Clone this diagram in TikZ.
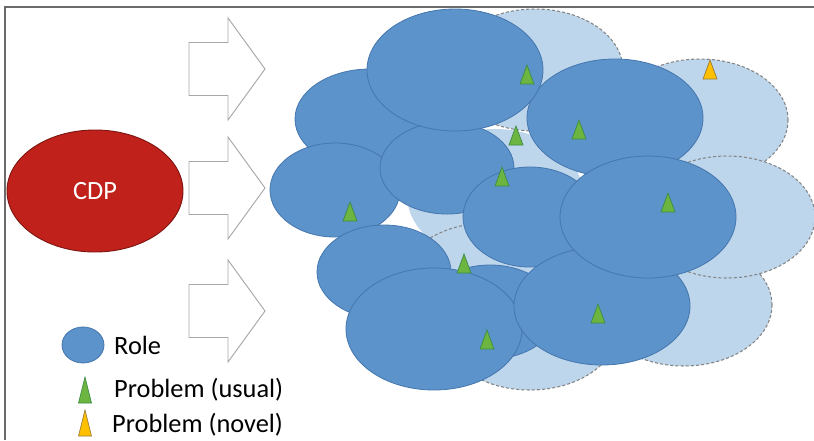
\documentclass[tikz,border=0pt]{standalone}
\usepackage{fontspec}
\setmainfont{Carlito}
\usetikzlibrary{shapes.geometric}

\definecolor{rolefill}{HTML}{5B93CA}
\definecolor{roleline}{HTML}{4677AE}
\definecolor{ghostfill}{HTML}{BDD6EC}
\definecolor{ghostline}{HTML}{858585}
\definecolor{cdpfill}{HTML}{C0211A}
\definecolor{cdpline}{HTML}{7E1611}
\definecolor{usualfill}{HTML}{6CB540}
\definecolor{usualline}{HTML}{3D8C45}
\definecolor{novelfill}{HTML}{FFC000}
\definecolor{novelline}{HTML}{9A7A3A}
\definecolor{arrowline}{HTML}{A8A8A8}

\tikzset{
  role/.style={ellipse, draw=roleline, fill=rolefill, line width=0.7pt,
    inner sep=0pt, minimum width=5.28cm, minimum height=3.66cm},
  small role/.style={role, minimum width=4.02cm, minimum height=2.82cm},
  ghost/.style={role, draw=ghostline, fill=ghostfill, line width=0.9pt,
    dash pattern=on 2.6pt off 1.8pt},
  ghost fill/.style={ghost, draw=none},
  push/.pic={\path[draw=arrowline, fill=white, line width=0.8pt]
    (-38,-26.5) -- (1,-26.5) -- (1,-51) -- (38,0) -- (1,51) -- (1,26.5)
    -- (-38,26.5) -- cycle;},
  label/.style={font=\fontsize{22.5}{27}\selectfont, inner sep=0pt},
  prob/.pic={\path[pic actions] (-7,0) -- (0,-19) -- (7,0) -- cycle;},
  tall prob/.pic={\path[pic actions] (-6.5,0) -- (0,-26) -- (6.5,0) -- cycle;},
  usual/.style={fill=usualfill, draw=usualline, line width=0.6pt},
  novel/.style={fill=novelfill, draw=novelline, line width=0.6pt},
}

\begin{document}
\begin{tikzpicture}[x=0.03cm, y=-0.03cm]
  \useasboundingbox (0,0) rectangle (814,440);
  \draw[line width=1.6pt, black!58] (5,440) -- (5,7) -- (814,7);

  % CDP and arrows
  \node[ellipse, draw=cdpline, fill=cdpfill, line width=0.8pt, inner sep=0pt,
    minimum width=5.28cm, minimum height=3.66cm, label, text=white] (cdp) at (95,191) {CDP};
  \pic at (227,69) {push};
  \pic at (227,188) {push};
  \pic at (227,311) {push};

  % Light (dashed) roles
  \node[ghost fill, minimum height=3.96cm] (g0) at (495,195) {};
  \node[ghost] (g5) at (530,329) {};
  \node[ghost] (g6) at (488,284) {};
  \node[ghost] (g4) at (684,305) {};
  \node[ghost] (g1) at (535,70) {};
  \node[ghost] (g2) at (700,120) {};
  \node[ghost] (g3) at (727,217) {};

  % Roles
  \node[role, minimum width=4.5cm, minimum height=3cm] (r1) at (370,119) {};
  \node[small role, minimum width=3.9cm] (r2) at (335,190) {};
  \node[small role, minimum height=2.76cm] (r3) at (447,168) {};
  \node[role, minimum height=3.54cm] (r4) at (615,118) {};
  \node[role] (r5) at (455,70) {};
  \node[small role] (r6) at (384,272) {};
  \node[small role] (r7) at (490,312) {};
  \node[role] (r8) at (434,329) {};
  \node[small role, minimum height=3cm] (r9) at (530,217) {};
  \node[role, minimum height=3.54cm] (r10) at (602,306) {};
  \node[role] (r11) at (648,217) {};

  % Problems
  \foreach \px/\py in {527/84, 516/145, 579/139, 502/186, 668/212,
                       350/221, 464/273, 487/349, 598/323}
    \pic[usual] at (\px,\py) {prob};
  \pic[novel] at (710,79) {prob};

  % Legend
  \node[ellipse, draw=roleline, fill=rolefill, line width=0.7pt, inner sep=0pt,
    minimum width=1.26cm, minimum height=1.08cm] (key role) at (83,345) {};
  \node[label, anchor=west] (role text) at (114,345) {Role};
  \pic[usual] at (85,403) {tall prob};
  \node[label, anchor=west] (usual text) at (114,390) {Problem (usual)};
  \pic[novel] at (85,436) {tall prob};
  \node[label, anchor=west] (novel text) at (112,425) {Problem (novel)};
\end{tikzpicture}
\end{document}
